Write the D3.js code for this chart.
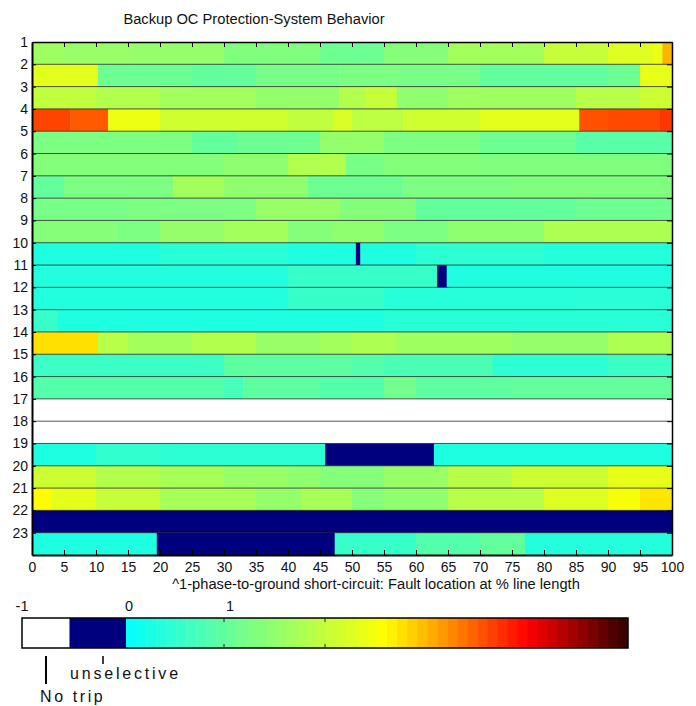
<!DOCTYPE html>
<html>
<head>
<meta charset="utf-8">
<title>Backup OC Protection-System Behavior</title>
<script src="https://d3js.org/d3.v7.min.js"></script>
<style>
    body { margin: 0; background: white; }
    text { font-family: "Liberation Sans", Arial, sans-serif; fill: #111; }
</style>
</head>
<body>
<svg id="chart" width="696" height="706"></svg>
<script>
    'use strict';

    // -1 = no trip, 0 = unselective, > 0 = tripping behaviour value
    const NO_TRIP = -1;
    const UNSEL = 0;

    const chartTitle = "Backup OC Protection-System Behavior";
    const xTitle = "^1-phase-to-ground short-circuit: Fault location at % line length";
    const xTicks = [0, 5, 10, 15, 20, 25, 30, 35, 40, 45, 50, 55, 60, 65, 70, 75, 80, 85, 90, 95, 100];
    const rowLabels = [1, 2, 3, 4, 5, 6, 7, 8, 9, 10, 11, 12, 13, 14, 15, 16, 17, 18, 19, 20, 21, 22, 23];

    // each row: [start % of line length, value] until the next start
    const row1  = [[0, 1.6], [5, 1.55], [15, 1.5], [30, 1.3], [45, 1.1], [55, 1.35], [65, 1.65], [80, 2.0], [90, 2.25], [97, 2.4], [98.5, 3.0]];
    const row2  = [[0, 2.3], [10.3, 1.1], [25, 1.0], [35, 1.2], [48, 1.25], [57.5, 1.2], [70, 1.0], [90, 1.1], [95, 2.35]];
    const row3  = [[0, 1.95], [10, 1.8], [20, 1.65], [35, 1.5], [48, 1.8], [52, 2.0], [57, 1.45], [65, 1.6], [85, 1.85], [95, 2.05]];
    const row4  = [[0, 3.62], [6, 3.5], [11.9, 2.4], [20, 2.1], [40, 1.95], [47, 2.2], [50, 1.9], [58, 2.1], [70, 2.3], [85.5, 3.55], [90, 3.6], [98, 3.7]];
    const row5  = [[0, 1.25], [25, 1.0], [32, 1.1], [45, 1.5], [55, 1.25], [70, 1.1], [85, 0.9]];
    const row6  = [[0, 1.35], [30, 1.45], [40, 1.8], [49, 1.2], [55, 1.35], [70, 1.3]];
    const row7  = [[0, 1.0], [5, 1.25], [22, 1.65], [30, 1.45], [43, 1.1], [58, 1.25], [75, 1.3]];
    const row8  = [[0, 1.2], [15, 1.25], [35, 1.55], [48, 1.35], [60, 1.0], [85, 1.1]];
    const row9  = [[0, 1.35], [13, 1.25], [20, 1.5], [30, 1.65], [40, 1.35], [47, 1.45], [55, 1.25], [65, 1.45], [80, 1.75]];
    const row10 = [[0, 0.3], [20, 0.4], [40, 0.3], [50.6, UNSEL], [51.3, 0.3], [60, 0.45], [80, 0.35]];
    const row11 = [[0, 0.33], [40, 0.55], [63.3, UNSEL], [64.8, 0.3]];
    const row12 = [[0, 0.33], [40, 0.55], [55, 0.38], [85, 0.4]];
    const row13 = [[0, 0.55], [4, 0.3], [55, 0.4]];
    const row14 = [[0, 2.75], [10.3, 1.85], [15, 1.65], [25, 1.8], [35, 1.55], [45, 1.65], [50, 1.75], [57, 1.6], [75, 1.5], [90, 1.75]];
    const row15 = [[0, 0.6], [30, 0.95], [50, 0.85], [55, 0.75], [72, 0.45], [90, 0.6]];
    const row16 = [[0, 0.85], [30, 0.7], [33, 0.95], [45, 0.85], [55, 1.15], [60, 0.95], [75, 1.0]];
    const row17 = [[0, NO_TRIP]];
    const row18 = [[0, NO_TRIP]];
    const row19 = [[0, 0.3], [10, 0.5], [20, 0.45], [45.8, UNSEL], [62.8, 0.3]];
    const row20 = [[0, 2.05], [10, 1.8], [20, 1.7], [30, 1.55], [40, 1.45], [45, 1.35], [55, 1.55], [65, 1.85], [75, 2.05], [90, 2.35]];
    const row21 = [[0, 2.6], [3, 2.3], [10, 2.0], [20, 1.7], [35, 1.5], [42, 1.7], [50, 1.35], [55, 1.45], [65, 1.85], [80, 2.25], [90, 2.5], [95, 2.72]];
    const row22 = [[0, UNSEL]];
    const row23 = [[0, 0.3], [19.5, UNSEL], [47.3, 0.55], [60, 0.85], [70, 1.0], [77, 0.35]];

    const rows = [row1, row2, row3, row4, row5, row6, row7, row8, row9, row10, row11, row12,
        row13, row14, row15, row16, row17, row18, row19, row20, row21, row22, row23];

    const cbLabels = [-1, 0, 1];
    const cbTicks = [1, 2];

    const svg = d3.select("#chart");

    const x = d3.scaleLinear().domain([0, 100]).range([32, 672]);
    const y = d3.scaleLinear().domain([1, 24]).range([42, 555]);

    // jet-like map, starting at cyan
    const jet = d3.scaleLinear()
        .domain([0, 2.58, 4.0, 5.0])
        .range(["#00ffff", "#ffff00", "#ff0000", "#320000"])
        .clamp(true);

    function color(v) {
        if (v <= -0.5) return "#ffffff";
        if (v <= 0) return "#00007f";
        return jet(v);
    }

    const cells = [];
    rows.forEach((segs, r) => {
        segs.forEach((s, j) => {
            const end = j < segs.length - 1 ? segs[j + 1][0] : 100;
            cells.push({row: rowLabels[r], x0: s[0], x1: end, v: s[1]});
        });
    });

    svg.append("g")
        .selectAll("rect")
        .data(cells)
        .join("rect")
        .attr("x", d => x(d.x0))
        .attr("y", d => y(d.row))
        .attr("width", d => x(d.x1) - x(d.x0) + 0.4)
        .attr("height", d => y(d.row + 1) - y(d.row) + 0.4)
        .attr("fill", d => color(d.v));

    // horizontal grid lines at every row boundary
    svg.append("g")
        .selectAll("line")
        .data(rowLabels.slice(1))
        .join("line")
        .attr("x1", x(0))
        .attr("x2", x(100))
        .attr("y1", d => y(d))
        .attr("y2", d => y(d))
        .attr("stroke", "#2a2a2a")
        .attr("stroke-opacity", 0.8)
        .attr("stroke-width", 1);

    function styleAxis(g, w) {
        g.select(".domain").attr("stroke", "#000").attr("stroke-width", w);
        g.selectAll(".tick line").attr("stroke", "#000");
        g.selectAll(".tick text")
            .style("font-family", '"Liberation Sans", Arial, sans-serif')
            .style("font-size", "14px")
            .attr("fill", "#111");
    }

    svg.append("g")
        .attr("transform", `translate(0,${y(24)})`)
        .call(d3.axisBottom(x).tickValues(xTicks).tickSizeInner(-5).tickSizeOuter(0).tickPadding(7))
        .call(g => styleAxis(g, 2));

    svg.append("g")
        .attr("transform", `translate(0,${y(1)})`)
        .call(d3.axisTop(x).tickValues(xTicks).tickSizeInner(-5).tickSizeOuter(0).tickFormat(""))
        .call(g => styleAxis(g, 1.5));

    svg.append("g")
        .attr("transform", `translate(${x(0)},0)`)
        .call(d3.axisLeft(y).tickValues(rowLabels).tickSizeInner(-4).tickSizeOuter(0).tickPadding(4).tickFormat(d3.format("d")))
        .call(g => styleAxis(g, 2));

    svg.append("g")
        .attr("transform", `translate(${x(100)},0)`)
        .call(d3.axisRight(y).tickValues(rowLabels).tickSizeInner(-5).tickSizeOuter(0).tickFormat(""))
        .call(g => styleAxis(g, 1.5));

    svg.append("text")
        .attr("x", 254)
        .attr("y", 24)
        .attr("text-anchor", "middle")
        .style("font-size", "14.7px")
        .text(chartTitle);

    svg.append("text")
        .attr("x", 376)
        .attr("y", 589)
        .attr("text-anchor", "middle")
        .style("font-size", "14.7px")
        .text(xTitle);

    // colour bar
    const cb = d3.scaleLinear().domain([-1, 5]).range([22, 628]);
    const cbTop = 618, cbH = 30;
    const cbStart = 0.03;

    const cbSteps = [];
    for (let i = 0; i < 50; i++) cbSteps.push(i);
    const stepW = (cb(5) - cb(cbStart)) / 50;

    const cbg = svg.append("g");
    cbg.append("rect")
        .attr("x", cb(-1)).attr("y", cbTop)
        .attr("width", cb(-0.53) - cb(-1)).attr("height", cbH)
        .attr("fill", color(NO_TRIP));
    cbg.append("rect")
        .attr("x", cb(-0.53)).attr("y", cbTop)
        .attr("width", cb(cbStart) - cb(-0.53)).attr("height", cbH)
        .attr("fill", color(UNSEL));
    cbg.selectAll("rect.step")
        .data(cbSteps)
        .join("rect")
        .attr("class", "step")
        .attr("x", i => cb(cbStart) + i * stepW)
        .attr("y", cbTop)
        .attr("width", i => i < 49 ? stepW + 0.5 : stepW)
        .attr("height", cbH)
        .attr("fill", i => jet((i + 0.5) * 0.1));
    cbg.append("rect")
        .attr("x", cb(-1)).attr("y", cbTop)
        .attr("width", cb(5) - cb(-1)).attr("height", cbH)
        .attr("fill", "none")
        .attr("stroke", "#000")
        .attr("stroke-width", 1.5);

    cbg.selectAll("line.cbtick")
        .data(cbTicks)
        .join("line")
        .attr("class", "cbtick")
        .attr("x1", d => cb(d)).attr("x2", d => cb(d))
        .attr("y1", cbTop).attr("y2", cbTop + 4)
        .attr("stroke", "#222");
    cbg.selectAll("line.cbtickb")
        .data(cbTicks)
        .join("line")
        .attr("class", "cbtickb")
        .attr("x1", d => cb(d)).attr("x2", d => cb(d))
        .attr("y1", cbTop + cbH - 4).attr("y2", cbTop + cbH)
        .attr("stroke", "#222");

    cbg.selectAll("text.cblabel")
        .data(cbLabels)
        .join("text")
        .attr("class", "cblabel")
        .attr("x", d => cb(d) + (d === -1 ? 0 : 6))
        .attr("y", 611)
        .attr("text-anchor", "middle")
        .style("font-size", "14.5px")
        .text(d => d);

    // annotations under the colour bar
    svg.append("line")
        .attr("x1", 46).attr("x2", 46)
        .attr("y1", 656).attr("y2", 684)
        .attr("stroke", "#000").attr("stroke-width", 2);
    svg.append("line")
        .attr("x1", 103).attr("x2", 103)
        .attr("y1", 656).attr("y2", 664)
        .attr("stroke", "#000").attr("stroke-width", 1.5);
    svg.append("text")
        .attr("x", 70).attr("y", 679)
        .style("font-size", "16px")
        .style("letter-spacing", "2.8px")
        .text("unselective");
    svg.append("text")
        .attr("x", 40).attr("y", 702)
        .style("font-size", "16px")
        .style("letter-spacing", "2.6px")
        .text("No trip");
</script>
</body>
</html>
